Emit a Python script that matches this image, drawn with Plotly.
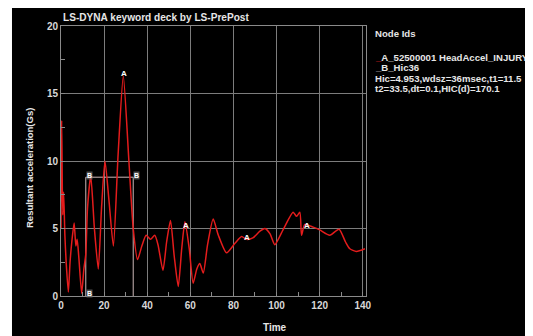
import plotly.graph_objects as go

# Curve A: resultant head acceleration (Gs) vs time
time_a = [0, 0.3, 0.8, 1.2, 1.8, 2.4, 3.4, 4.2, 5.0, 6.1, 6.9, 7.5, 8.3, 9.6, 10.6, 11.5,
          12.3, 13.8, 15.5, 17.3, 18.8, 20.4, 22.3, 24.3, 26.5, 28.9, 31.5, 33.5, 35.5,
          37.5, 39.5, 41.5, 43.5, 45.0, 47.3, 49.0, 50.8, 52.5, 54.4, 56.0, 57.5, 59.5,
          61.3, 63.0, 64.4, 66.0, 68.0, 70.6, 73.0, 76.8, 80.7, 83.8, 86.0, 89.0, 92.3,
          94.6, 97.0, 99.2, 103.0, 107.7, 109.3, 110.8, 111.6, 113.1, 117.0, 120.0,
          124.7, 129.0, 132.0, 134.0, 137.0, 141.0]
accel_a = [5.0, 13.0, 6.0, 7.7, 4.5, 2.5, 0.3, 2.5, 4.0, 5.4, 3.7, 4.2, 2.8, 0.2, 2.0, 3.1,
           6.5, 8.9, 5.0, 2.0, 6.5, 10.0, 7.0, 3.7, 10.5, 16.3, 10.0, 5.0, 2.7,
           3.7, 4.5, 4.2, 4.5, 3.8, 1.9, 4.0, 5.6, 3.0, 0.7, 3.5, 5.5, 3.5,
           0.95, 2.0, 2.4, 1.7, 3.8, 5.7, 4.5, 3.2, 3.9, 4.4, 4.2, 4.3, 4.8,
           5.0, 4.6, 3.8, 4.9, 6.2, 5.9, 6.2, 4.5, 5.3, 5.1, 4.9,
           4.5, 4.95, 4.0, 3.5, 3.3, 3.5]

# Curve B: HIC36 window
time_b = [11.5, 11.5, 33.5, 33.5]
accel_b = [0, 8.8, 8.8, 0]

# Point labels
label_a_t = [29.3, 57.8, 86.1, 114.2]
label_a_v = [16.5, 5.2, 4.35, 5.25]
label_b_t = [13.0, 35.1, 13.0]
label_b_v = [8.9, 8.9, 0.2]

x_ticks = [0, 20, 40, 60, 80, 100, 120, 140]
y_ticks = [0, 5, 10, 15, 20]

title_text = "LS-DYNA keyword deck by LS-PrePost"
legend_lines = [
    "Node Ids",
    "<span style='color:#e02020'>_</span>A_52500001 HeadAccel_INJURY",
    "<span style='color:#d0c0c0'>_</span>B_Hic36",
    "Hic=4.953,wdsz=36msec,t1=11.5",
    "t2=33.5,dt=0.1,HIC(d)=170.1",
]
legend_y = [0.974, 0.885, 0.848, 0.807, 0.767]

FONT = "Liberation Sans, Arial, sans-serif"
TXT = "#e6e6e6"
GRID = "#7c7c7c"

fig = go.Figure()
fig.add_trace(go.Scatter(x=time_b, y=accel_b, mode="lines",
                         line=dict(color="#cdb8b8", width=1), showlegend=False,
                         hoverinfo="skip"))
fig.add_trace(go.Scatter(x=time_a, y=accel_a, mode="lines",
                         line=dict(color="#e41c1c", width=1.5, shape="spline", smoothing=0.6),
                         showlegend=False))

for t, v in zip(label_a_t, label_a_v):
    fig.add_annotation(x=t, y=v, text="A", showarrow=False,
                       font=dict(family=FONT, size=8, color="#ffffff", weight="bold"))
for t, v in zip(label_b_t, label_b_v):
    fig.add_annotation(x=t, y=v, text="B", showarrow=False, bgcolor="rgba(110,110,110,0.7)",
                       borderpad=0,
                       font=dict(family=FONT, size=7, color="#ffffff", weight="bold"))

fig.add_annotation(xref="paper", yref="paper", x=0.0, y=1.0, yanchor="bottom", xanchor="left",
                   yshift=1, text=title_text, showarrow=False,
                   font=dict(family=FONT, size=10.1, color=TXT, weight="bold"))
for txt, yy in zip(legend_lines, legend_y):
    fig.add_annotation(xref="paper", yref="paper", x=1.023, y=yy, xanchor="left",
                       yanchor="middle", text=txt, showarrow=False,
                       font=dict(family=FONT, size=9.6, color=TXT, weight="bold"))
fig.add_annotation(xref="paper", yref="paper", x=0.7016, y=-0.1185, text="Time",
                   showarrow=False, xanchor="center", yanchor="middle",
                   font=dict(family=FONT, size=10, color=TXT, weight="bold"))
fig.add_annotation(xref="paper", yref="paper", x=-0.105, y=0.474, text="Resultant acceleration(Gs)",
                   textangle=-90, showarrow=False, xanchor="center", yanchor="middle",
                   font=dict(family=FONT, size=9.5, color=TXT, weight="bold"))

# thin white strip at the left edge of the screenshot
fig.add_shape(type="rect", xref="paper", yref="paper", x0=-0.3, x1=-0.1607, y0=-0.5, y1=1.5,
              fillcolor="white", line_width=0, layer="above")

axis_common = dict(showgrid=True, gridcolor=GRID, gridwidth=1, showline=True, linecolor="#8a8a8a",
                   linewidth=1, mirror=True, zeroline=False, ticks="inside", ticklen=4,
                   tickcolor="#8a8a8a",
                   tickfont=dict(family=FONT, size=10, color="#d8d8d8", weight="bold"))
fig.update_xaxes(range=[0, 141.5], tickvals=x_ticks,
                 minor=dict(dtick=10, ticks="inside", ticklen=4, tickcolor="#8a8a8a", showgrid=False),
                 **axis_common)
fig.update_yaxes(range=[0, 20], tickvals=y_ticks,
                 minor=dict(dtick=2.5, ticks="inside", ticklen=4, tickcolor="#8a8a8a", showgrid=False),
                 **axis_common)

fig.update_layout(width=533, height=336, margin=dict(l=53, r=175, t=18, b=48, autoexpand=False),
                  paper_bgcolor="black", plot_bgcolor="black")

fig.write_html("out.html")
